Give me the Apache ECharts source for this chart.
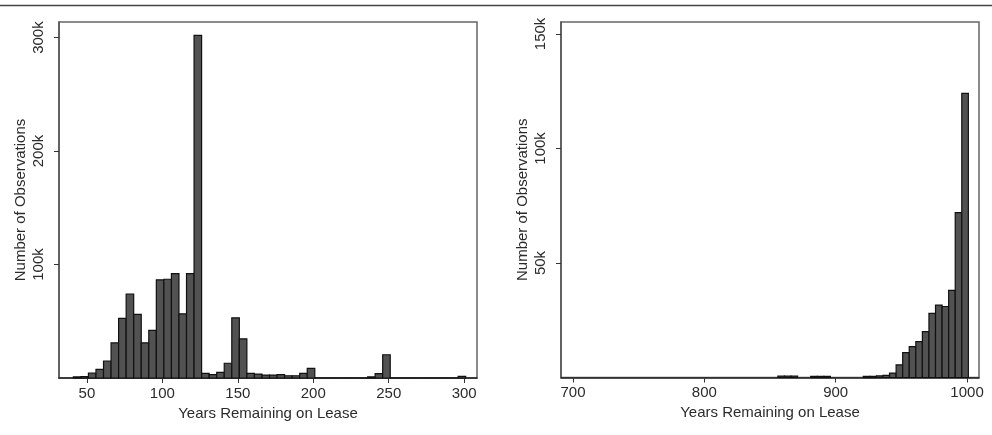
<!DOCTYPE html>
<html>
<head>
<meta charset="utf-8">
<script src="https://cdn.jsdelivr.net/npm/echarts@6/dist/echarts.min.js"></script>
<style>
    html, body { margin: 0; padding: 0; background: #fff; }
    #chart { width: 992px; height: 435px; }
</style>
</head>
<body>
<div id="chart"></div>
<script>
// bin starts (years remaining) and counts, 5-year bins
const BIN_WIDTH = 5
const leftBinStart = [41, 46, 51, 56, 61, 66, 71, 76, 81, 86, 91, 96, 101, 106, 111, 116, 121, 126, 131, 136,
    141, 146, 151, 156, 161, 166, 171, 176, 181, 186, 191, 196, 201, 206, 211, 216, 221, 226, 231, 236,
    241, 246, 251, 256, 261, 266, 271, 276, 281, 286, 291, 296]
const leftCounts = [1000, 1200, 4400, 7600, 15000, 31000, 52500, 74000, 56000, 31000, 42000, 86500, 87000, 92000, 56500, 92000, 302000, 4000, 3000, 5000,
    13000, 53000, 34500, 4000, 3500, 2600, 2600, 3000, 2000, 2000, 4000, 8500, 0, 0, 0, 0, 0, 0, 0, 1000,
    3800, 20500, 0, 0, 0, 0, 0, 0, 0, 0, 0, 1500]

const rightBinStart = [856, 861, 866, 881, 886, 891, 921, 926, 931, 936, 941, 946, 951, 956, 961, 966, 971, 976, 981, 986, 991, 996]
const rightCounts = [600, 600, 600, 500, 500, 500, 500, 500, 700, 900, 1900, 5500, 10900, 13500, 15700, 20000, 28000, 31600, 31000, 38000, 72000, 124000]

const leftXTicks = [50, 100, 150, 200, 250, 300]
const leftYTicks = [100000, 200000, 300000]
const rightXTicks = [700, 800, 900, 1000]
const rightYTicks = [50000, 100000, 150000]

const FONT = "'Liberation Sans', Arial, sans-serif"
const TEXT = '#2b2b2b'

const toRows = (starts, counts) => starts.map((s, i) => [s, s + BIN_WIDTH, counts[i]])

const renderBar = (params, api) => {
    const p0 = api.coord([api.value(0), api.value(2)])
    const p1 = api.coord([api.value(1), 0])
    return {
        type: 'rect',
        shape: { x: p0[0], y: p0[1], width: p1[0] - p0[0], height: p1[1] - p0[1] },
        style: { fill: '#525252', stroke: '#111', lineWidth: 1.2 }
    }
}

const xAxisFor = (idx, min, max, ticks) => ({
    type: 'value',
    gridIndex: idx,
    min: min,
    max: max,
    name: 'Years Remaining on Lease',
    nameLocation: 'middle',
    nameGap: 26,
    nameTextStyle: { color: TEXT, fontSize: 15, fontFamily: FONT },
    splitLine: { show: false },
    axisLine: { lineStyle: { color: '#222', width: 1.5 } },
    axisTick: { customValues: ticks, length: 5, lineStyle: { color: '#333' } },
    axisLabel: {
        customValues: ticks,
        margin: 8,
        color: TEXT,
        fontSize: 15,
        fontFamily: FONT,
        formatter: v => String(v)
    }
})

const yAxisFor = (idx, max, ticks) => ({
    type: 'value',
    gridIndex: idx,
    min: 0,
    max: max,
    name: 'Number of Observations',
    nameLocation: 'middle',
    nameRotate: 90,
    nameGap: 31,
    nameTextStyle: { color: TEXT, fontSize: 15, fontFamily: FONT },
    splitLine: { show: false },
    axisLine: { show: true, lineStyle: { color: '#555', width: 1.5 } },
    axisTick: { show: true, customValues: ticks, length: 5, lineStyle: { color: '#333' } },
    axisLabel: {
        customValues: ticks,
        rotate: 90,
        margin: 13,
        color: TEXT,
        fontSize: 15,
        fontFamily: FONT,
        formatter: v => (v / 1000) + 'k'
    }
})

const myChart = echarts.init(document.getElementById('chart'))

myChart.setOption({
    animation: false,
    graphic: [{
        // rule across the top of the figure
        type: 'line',
        shape: { x1: 0, y1: 5.5, x2: 992, y2: 5.5 },
        style: { stroke: '#444', lineWidth: 1.5 }
    }],
    grid: [
        { left: 59, top: 22, width: 418, height: 356, show: true, borderColor: '#666', borderWidth: 1.5, backgroundColor: '#fff' },
        { left: 561, top: 22, width: 418, height: 355.5, show: true, borderColor: '#666', borderWidth: 1.5, backgroundColor: '#fff' }
    ],
    xAxis: [
        xAxisFor(0, 31.5, 308.5, leftXTicks),
        xAxisFor(1, 690.9, 1009.1, rightXTicks)
    ],
    yAxis: [
        yAxisFor(0, 313700, leftYTicks),
        yAxisFor(1, 155200, rightYTicks)
    ],
    series: [{
        type: 'custom',
        xAxisIndex: 0,
        yAxisIndex: 0,
        renderItem: renderBar,
        encode: { x: [0, 1], y: 2 },
        data: toRows(leftBinStart, leftCounts)
    }, {
        type: 'custom',
        xAxisIndex: 1,
        yAxisIndex: 1,
        renderItem: renderBar,
        encode: { x: [0, 1], y: 2 },
        data: toRows(rightBinStart, rightCounts)
    }]
})
</script>
</body>
</html>
